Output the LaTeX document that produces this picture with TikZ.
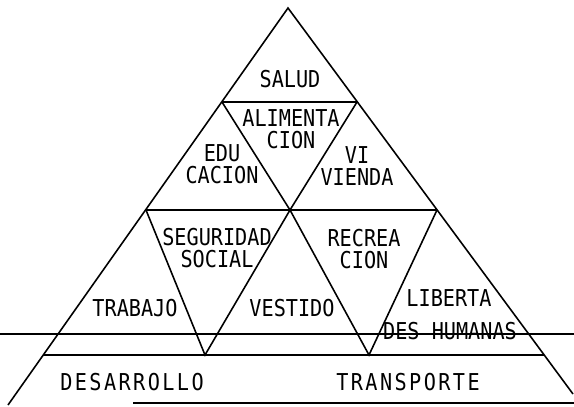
\documentclass[tikz,border=0pt]{standalone}
\usepackage{fontspec}
\setmonofont{DejaVu Sans Mono}
\newfontfamily\widemono[LetterSpace=12]{DejaVu Sans Mono}

\begin{document}
\begin{tikzpicture}[x=0.02cm, y=-0.02cm, line width=.9pt,
    every node/.style={font=\ttfamily\fontsize{11.5}{11}\selectfont, inner sep=0pt, yscale=1.15},
    txt/.style={align=center}]
    \useasboundingbox (0,0) rectangle (574,406);

    % outline and cross lines
    \coordinate (apex) at (288,8);
    \coordinate (bl) at (8,405);
    \coordinate (br) at (573,394);
    \coordinate (a1) at (222,102);
    \coordinate (a2) at (357,102);
    \coordinate (m1) at (146,210);
    \coordinate (mc) at (290,210);
    \coordinate (m2) at (437,210);
    \coordinate (v1) at (205,355);
    \coordinate (v2) at (369,355);
    \coordinate (h1) at (43,355);
    \coordinate (h2) at (544,355);
    \coordinate (s1) at (0,334);
    \coordinate (s2) at (574,334);
    \coordinate (b1) at (133,403);
    \coordinate (b2) at (574,403);

    \draw (bl) -- (apex) -- (br);
    \draw (a1) -- (a2);
    \draw (m1) -- (m2);
    \draw (h1) -- (h2);
    \draw (a1) -- (mc) -- (a2);
    \draw (m1) -- (v1) -- (mc) -- (v2) -- (m2);
    \draw (s1) -- (s2);
    \draw (b1) -- (b2);

    % needs
    \node (salud) at (290,79) {SALUD};
    \node [txt] (alim) at (291,129) {ALIMENTA\\CION};
    \node [txt] (educ) at (222,164) {EDU\hspace{1.2em}\\CACION};
    \node [txt] (viv) at (357,166) {VI\\VIENDA};
    \node [txt] (segur) at (217,248) {SEGURIDAD\\SOCIAL};
    \node [txt] (recre) at (364,249) {RECREA\\CION};
    \node (trab) at (135,308) {TRABAJO};
    \node (vest) at (292,308) {VESTIDO};
    \node (libert) at (449,298) {LIBERTA};
    \node (hum) at (450,331) {DES HUMANAS};
    \node (desar) at (132,382) {\widemono DESARROLLO};
    \node (transp) at (408,382) {\widemono TRANSPORTE};
\end{tikzpicture}
\end{document}
